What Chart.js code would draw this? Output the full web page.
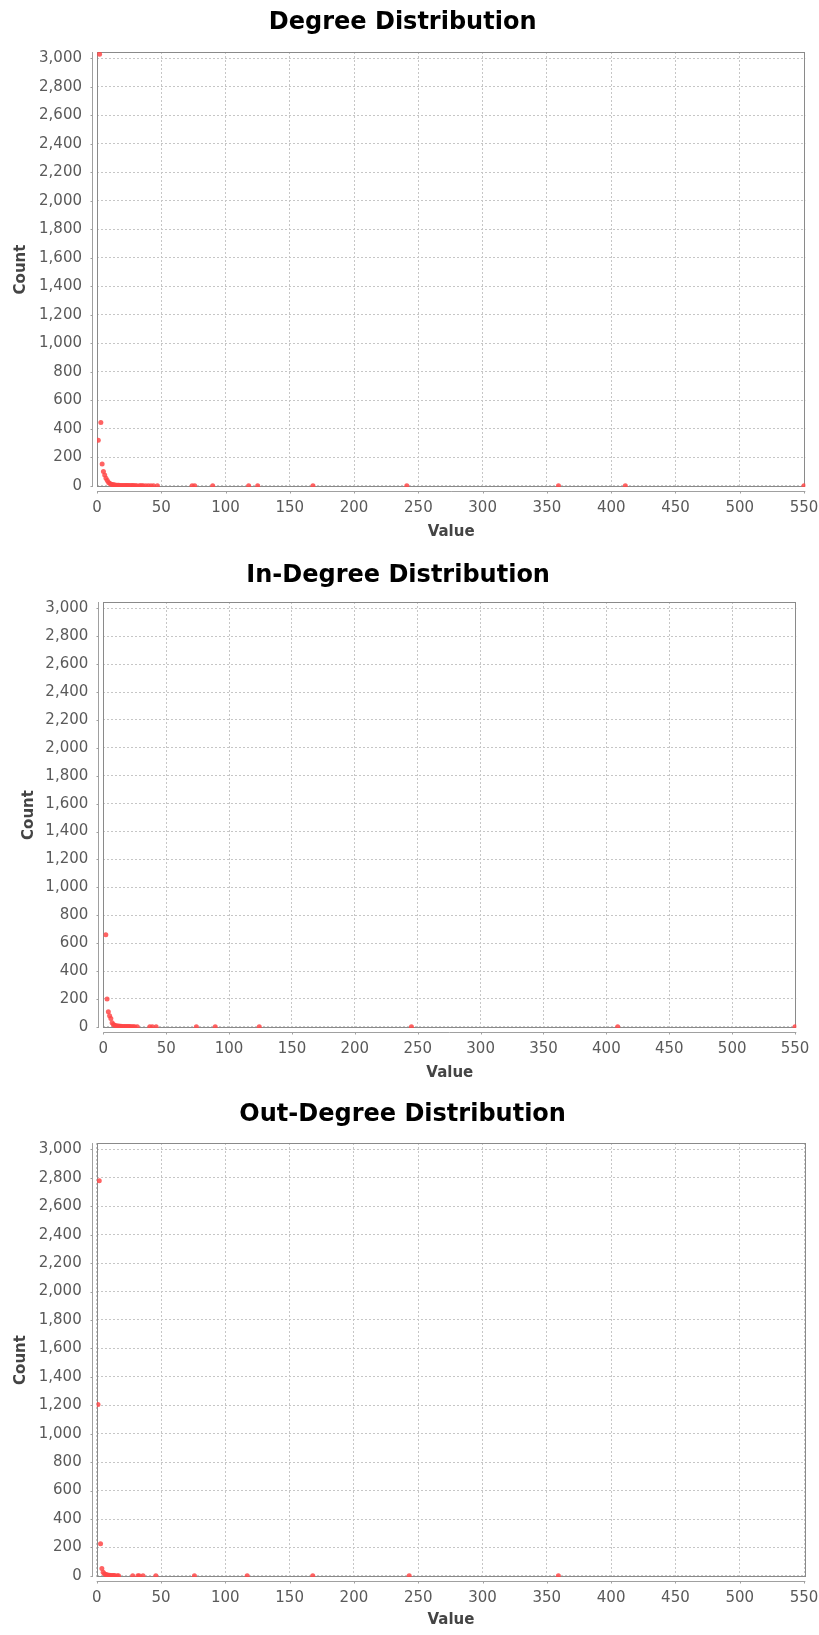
<!DOCTYPE html>
<html><head><meta charset="utf-8">
<script src="https://cdn.jsdelivr.net/npm/chart.js@4.4.1/dist/chart.umd.min.js"></script>
<style>
html,body{margin:0;padding:0;background:#fff;}
.wrap{position:absolute;left:0;width:819px;height:545px;}
</style></head><body>
<div class="wrap" style="top:0"><canvas id="c1" width="819" height="545"></canvas></div>
<div class="wrap" style="top:545px"><canvas id="c2" width="819" height="545"></canvas></div>
<div class="wrap" style="top:1090px"><canvas id="c3" width="819" height="545"></canvas></div>
<script>
// Tick labels
const xTickValues = [0, 50, 100, 150, 200, 250, 300, 350, 400, 450, 500, 550];
const yTickValues = [0, 200, 400, 600, 800, 1000, 1200, 1400, 1600, 1800, 2000, 2200, 2400, 2600, 2800, 3000];

// Degree distribution
const degreeValues = [1, 2, 3, 4, 5, 6, 7, 8, 9, 10, 11, 12, 13, 14, 15, 16, 17, 18, 19, 20, 21, 22, 23, 24, 25, 26, 27, 28, 29, 30, 31, 33, 34, 35, 36, 38, 40, 42, 44, 47, 74, 76, 90, 118, 125, 168, 241, 359, 411, 550];
const degreeCounts = [320, 3030, 445, 154, 100, 77, 54, 37, 23, 16, 12, 9, 8, 6, 5, 4, 4, 3, 3, 3, 2, 2, 2, 2, 2, 1, 3, 2, 1, 1, 1, 1, 1, 1, 1, 1, 1, 1, 1, 1, 1, 1, 1, 1, 1, 1, 1, 1, 1, 1];

// In-degree distribution
const inDegreeValues = [2, 3, 4, 5, 6, 7, 8, 9, 10, 11, 12, 13, 14, 15, 16, 17, 18, 19, 20, 21, 22, 23, 24, 25, 27, 37, 39, 42, 74, 89, 124, 245, 409, 550];
const inDegreeCounts = [660, 200, 108, 80, 60, 29, 17, 12, 9, 7, 6, 5, 4, 3, 3, 3, 2, 2, 2, 2, 1, 1, 1, 1, 1, 1, 1, 1, 1, 1, 1, 1, 1, 1];

// Out-degree distribution
const outDegreeValues = [1, 2, 3, 4, 5, 6, 7, 8, 9, 10, 11, 12, 13, 14, 16, 17, 28, 32, 33, 36, 46, 76, 117, 168, 243, 359];
const outDegreeCounts = [1205, 2780, 226, 52, 25, 15, 10, 7, 5, 4, 3, 3, 2, 2, 1, 1, 1, 1, 1, 1, 1, 1, 1, 1, 1, 1];

const FONT = "'DejaVu Sans', 'Liberation Sans', sans-serif";

const framePlugin = {
  id: 'frame',
  beforeDatasetsDraw(chart) {
    const ctx = chart.ctx, a = chart.chartArea;
    const xs = chart.scales.x, ys = chart.scales.y;
    ctx.save();
    ctx.strokeStyle = '#8a8a8a';
    ctx.lineWidth = 1;
    ctx.strokeRect(Math.round(a.left) + 0.5, Math.round(a.top) + 0.5, Math.round(a.right - a.left) - 1, Math.round(a.bottom - a.top) - 1);
    // offset axis lines
    ctx.strokeStyle = '#a0a0a0';
    const ax = Math.round(a.left) - 5 + 0.5;
    ctx.beginPath();
    ctx.moveTo(ax, a.top); ctx.lineTo(ax, a.bottom);
    ys.ticks.forEach(t => { const py = Math.round(ys.getPixelForValue(t.value)) + 0.5; ctx.moveTo(ax - 2, py); ctx.lineTo(ax, py); });
    const ay = Math.round(a.bottom) + 4 + 0.5;
    ctx.moveTo(a.left, ay); ctx.lineTo(a.right, ay);
    xs.ticks.forEach(t => { const px = Math.round(xs.getPixelForValue(t.value)) + 0.5; ctx.moveTo(px, ay); ctx.lineTo(px, ay + 2); });
    ctx.stroke();
    ctx.restore();
  }
};

function makeChart(id, xs, ys, title, c) {
  const points = xs.map((x, i) => ({x: x, y: ys[i]}));
  return new Chart(document.getElementById(id), {
    type: 'scatter',
    data: {datasets: [{data: points, pointRadius: 2.5, pointHoverRadius: 2.5, backgroundColor: 'rgba(255,72,72,0.85)', borderWidth: 0}]},
    options: {
      responsive: false, animation: false, devicePixelRatio: 1, locale: 'en-US',
      layout: {padding: {left: 0, right: c.right, top: 0, bottom: 0}},
      plugins: {
        legend: {display: false}, tooltip: {enabled: false},
        title: {display: true, text: title, color: '#000', font: {family: FONT, size: 24, weight: 'bold', lineHeight: 1.2}, padding: {top: c.tTop, bottom: c.tBottom}}
      },
      scales: {
        x: {
          type: 'linear', min: 0, max: 551,
          afterBuildTicks: s => { s.ticks = xTickValues.map(v => ({value: v})); },
          afterFit: s => { s.height = c.xH; s.paddingLeft = 0; s.paddingRight = 0; },
          grid: {color: '#c6c6c6', lineWidth: 1, tickLength: 7, tickColor: 'rgba(0,0,0,0)'},
          border: {display: false, dash: [2, 2]},
          ticks: {color: '#5a5a5a', font: {family: FONT, size: 15, lineHeight: 1.2}, padding: c.xPad, maxRotation: 0, autoSkip: false},
          title: {display: true, text: 'Value', color: '#444', font: {family: FONT, size: 15, weight: 'bold', lineHeight: 1.2}, padding: {top: 0, bottom: c.xTitle}}
        },
        y: {
          type: 'linear', min: -8, max: 3045,
          afterBuildTicks: s => { s.ticks = yTickValues.map(v => ({value: v})); },
          afterFit: s => { s.width = c.yW; s.paddingTop = 0; s.paddingBottom = 0; },
          grid: {color: '#c6c6c6', lineWidth: 1, tickLength: 7, tickColor: 'rgba(0,0,0,0)'},
          border: {display: false, dash: [2, 2]},
          ticks: {color: '#5a5a5a', font: {family: FONT, size: 15, lineHeight: 1.2}, padding: 8, autoSkip: false},
          title: {display: true, text: 'Count', color: '#444', font: {family: FONT, size: 15, weight: 'bold', lineHeight: 1.2}, padding: {top: c.yTitle, bottom: 0}}
        }
      }
    },
    plugins: [framePlugin]
  });
}

makeChart('c1', degreeValues, degreeCounts, 'Degree Distribution',
  {right: 13.7, tTop: 8.6, tBottom: 14.6, xH: 58, xPad: 4.7, xTitle: 4, yW: 97, yTitle: 12});
makeChart('c2', inDegreeValues, inDegreeCounts, 'In-Degree Distribution',
  {right: 22.7, tTop: 16.6, tBottom: 11.6, xH: 62, xPad: 5.2, xTitle: 7.5, yW: 103.3, yTitle: 20});
makeChart('c3', outDegreeValues, outDegreeCounts, 'Out-Degree Distribution',
  {right: 13.7, tTop: 10.6, tBottom: 13.6, xH: 58, xPad: 5.2, xTitle: 6, yW: 96.7, yTitle: 12});
</script>
</body></html>
